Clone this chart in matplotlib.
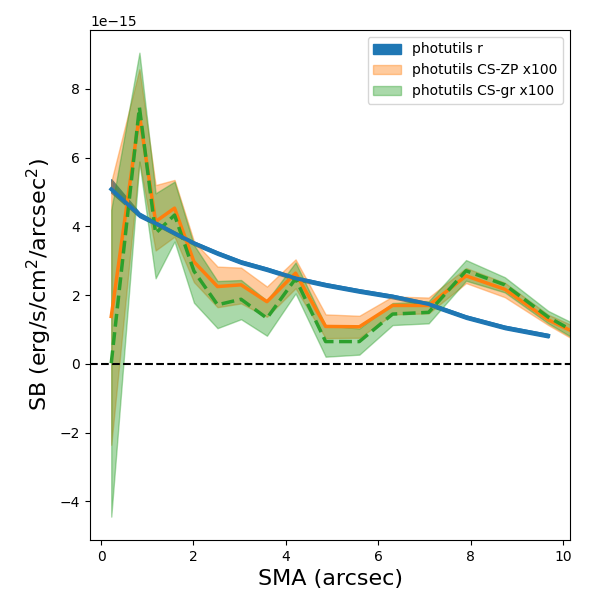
import numpy as np
import matplotlib
matplotlib.use('Agg')
import matplotlib.pyplot as plt

# SMA grid (arcsec)
sma = [0.22, 0.83, 1.18, 1.59, 2.01, 2.52, 3.03, 3.59, 4.21, 4.86, 5.59,
       6.31, 7.09, 7.90, 8.74, 9.68, 10.6]

# photutils r profile (units of 1e-15), ends one point earlier
r_sb = [5.08, 4.33, 4.09, 3.80, 3.51, 3.22, 2.96, 2.75, 2.49, 2.30, 2.12,
        1.96, 1.74, 1.36, 1.06, 0.82]
r_lo = [4.98, 4.27, 4.04, 3.75, 3.46, 3.17, 2.91, 2.70, 2.44, 2.25, 2.07,
        1.91, 1.69, 1.31, 1.01, 0.77]
r_hi = [5.37, 4.40, 4.14, 3.85, 3.56, 3.27, 3.01, 2.80, 2.54, 2.35, 2.17,
        2.01, 1.79, 1.41, 1.11, 0.87]

# colour-scaled ZP profile x100
zp_sb = [1.38, 7.24, 4.14, 4.53, 2.97, 2.25, 2.30, 1.81, 2.64, 1.09, 1.08,
         1.70, 1.70, 2.56, 2.17, 1.28, 0.69]
zp_lo = [-2.35, 5.90, 3.30, 3.70, 2.38, 1.65, 1.76, 1.37, 2.20, 0.75, 0.76,
         1.44, 1.47, 2.35, 1.94, 1.13, 0.42]
zp_hi = [5.30, 8.57, 5.20, 5.35, 3.56, 2.83, 2.80, 2.25, 3.04, 1.44, 1.40,
         1.96, 1.93, 2.79, 2.36, 1.43, 0.88]

# colour-scaled g-r profile x100
gr_sb = [0.02, 7.46, 3.80, 4.33, 2.70, 1.72, 1.88, 1.33, 2.48, 0.65, 0.65,
         1.45, 1.50, 2.71, 2.30, 1.36, 0.67]
gr_lo = [-4.44, 5.87, 2.49, 3.56, 1.78, 1.04, 1.30, 0.82, 2.05, 0.21, 0.27,
         1.13, 1.18, 2.42, 2.08, 1.18, 0.45]
gr_hi = [4.48, 9.05, 4.96, 5.30, 3.46, 2.41, 2.44, 1.84, 2.95, 1.12, 1.03,
         1.77, 1.82, 3.02, 2.52, 1.54, 0.93]

scale = 1e-15
x = np.array(sma)
xr = x[:len(r_sb)]

fig = plt.figure(figsize=(6, 6), dpi=100)
ax = fig.add_axes([0.15, 0.10, 0.80, 0.85])

ax.fill_between(xr, np.array(r_lo) * scale, np.array(r_hi) * scale,
                color='C0', label='photutils r', zorder=1)
ax.fill_between(x, np.array(zp_lo) * scale, np.array(zp_hi) * scale,
                color='C1', alpha=0.4, label='photutils CS-ZP x100', zorder=2)
ax.fill_between(x, np.array(gr_lo) * scale, np.array(gr_hi) * scale,
                color='C2', alpha=0.4, label='photutils CS-gr x100', zorder=2)
ax.plot(x, np.array(zp_sb) * scale, color='C1', lw=2.5, zorder=3)
ax.plot(x, np.array(gr_sb) * scale, color='C2', lw=2.5, ls='--', zorder=4)
ax.plot(xr, np.array(r_sb) * scale, color='C0', lw=2.8, zorder=5)
ax.axhline(0, color='k', ls='--', lw=1.5, zorder=3)

ax.set_xlim(-0.24, 10.15)
ax.set_ylim(-5.12e-15, 9.71e-15)
ax.set_xlabel('SMA (arcsec)', fontsize=16)
ax.set_ylabel('SB (erg/s/cm$^2$/arcsec$^2$)', fontsize=16)
ax.legend(loc='upper right')

fig.savefig('out.png', dpi=100)
